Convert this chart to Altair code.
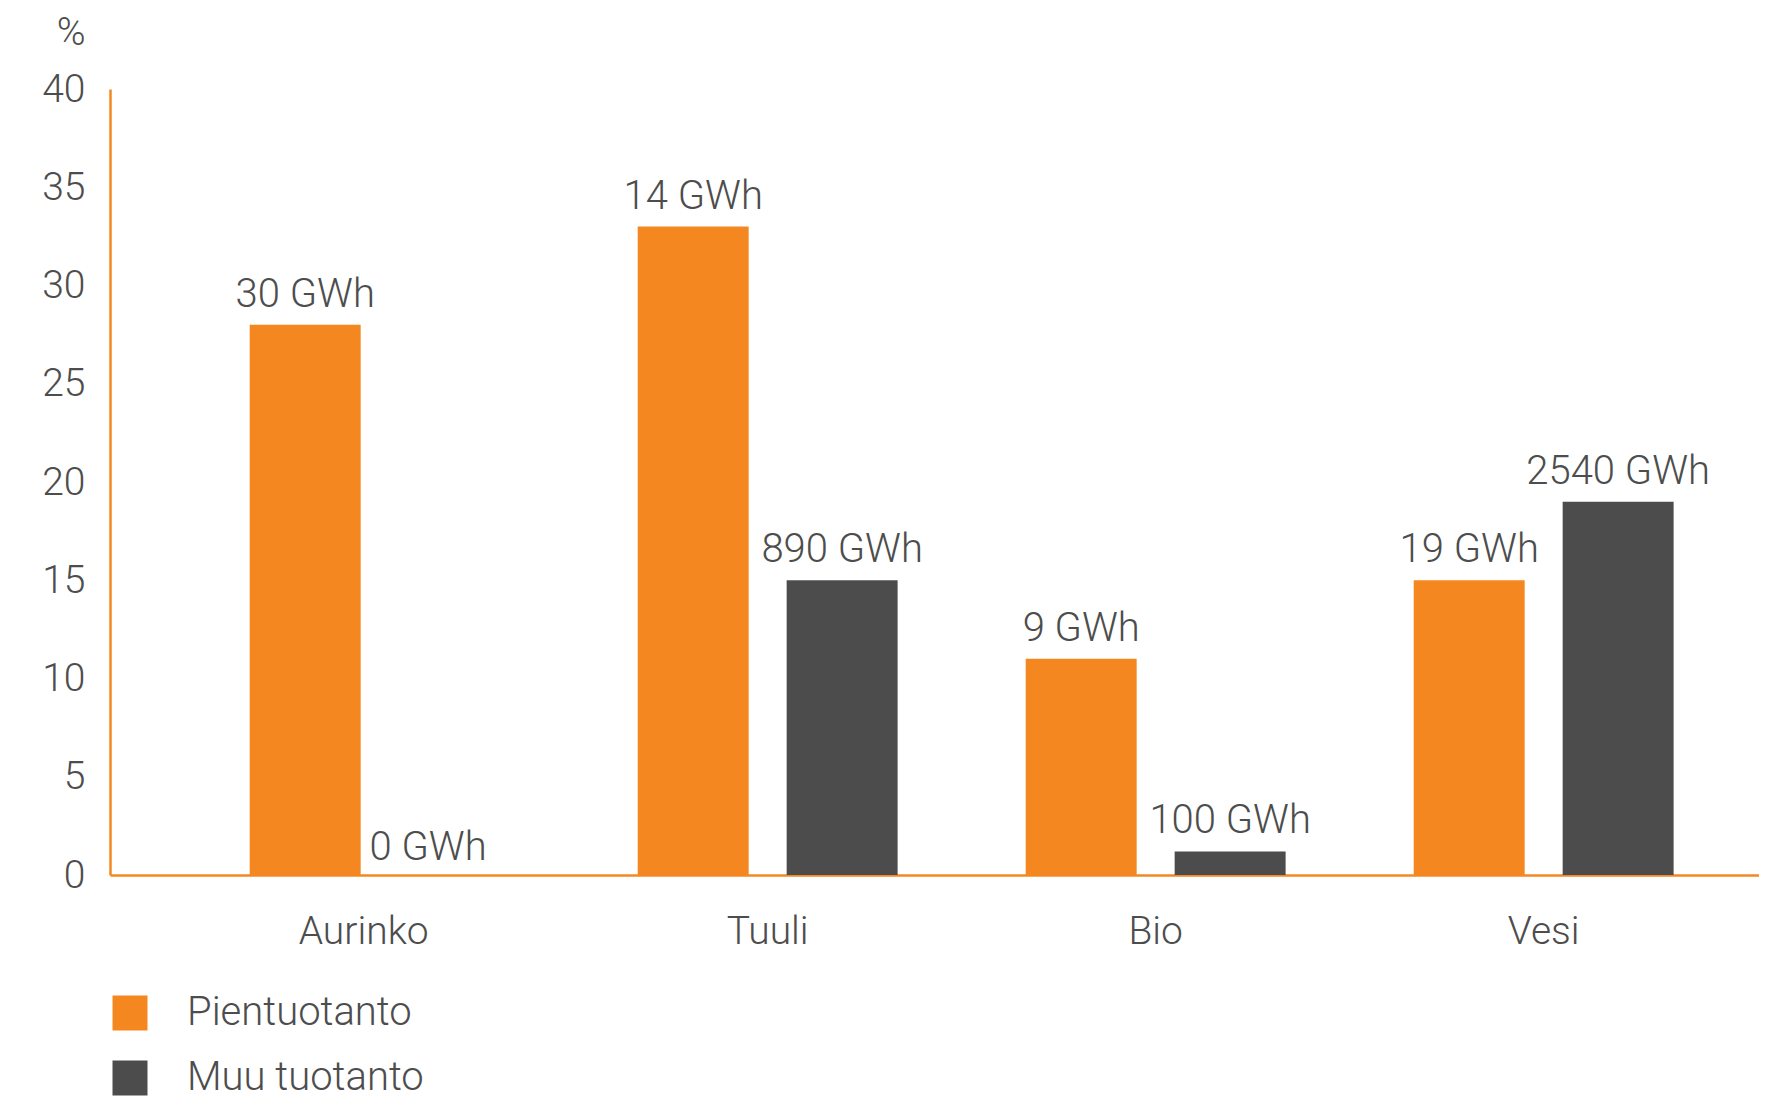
import altair as alt
import pandas as pd

categories = ["Aurinko", "Tuuli", "Bio", "Vesi"]
series_names = ["Pientuotanto", "Muu tuotanto"]
pien_values = [28, 33, 11, 15]
muu_values = [0, 15, 1.2, 19]
pien_labels = ["30 GWh", "14 GWh", "9 GWh", "19 GWh"]
muu_labels = ["0 GWh", "890 GWh", "100 GWh", "2540 GWh"]
y_ticks = [0, 5, 10, 15, 20, 25, 30, 35, 40]

ORANGE = "#f58720"
DARK = "#4c4c4c"
TEXT = "#4d4d4d"
FONT = "Roboto"
WEIGHT = 300

rows = []
for i, c in enumerate(categories):
    rows.append({"cat": c, "series": series_names[0], "value": pien_values[i], "label": pien_labels[i]})
    rows.append({"cat": c, "series": series_names[1], "value": muu_values[i], "label": muu_labels[i]})
df = pd.DataFrame(rows)

x = alt.X(
    "cat:N",
    sort=categories,
    scale=alt.Scale(paddingInner=0, paddingOuter=0.125, align=0.78),
    axis=alt.Axis(
        title=None, labelAngle=0, ticks=False, tickSize=0, labelPadding=37,
        labelFontSize=39,
        labelOffset={"condition": {"test": "datum.value === 'Aurinko'", "value": -16}, "value": 0},
    ),
)
y = alt.Y(
    "value:Q",
    scale=alt.Scale(domain=[0, 40], nice=False, zero=True),
    axis=alt.Axis(
        values=y_ticks, title="%", titleAngle=0, titleAlign="right", titleBaseline="middle",
        titleX=-25, titleY=-57, titleFontSize=39, titleFontWeight=WEIGHT, titleColor=TEXT,
        labelPadding=25, ticks=False, tickSize=0, grid=False, labelFontSize=39,
    ),
)
x_off = alt.XOffset("series:N", sort=series_names, scale=alt.Scale(paddingInner=0.255, paddingOuter=0.43))
color = alt.Color(
    "series:N",
    sort=series_names,
    scale=alt.Scale(domain=series_names, range=[ORANGE, DARK]),
    legend=alt.Legend(
        title=None, orient="none", legendX=0, legendY=904, symbolType="square",
        symbolSize=1225, symbolStrokeWidth=0, labelFontSize=40, labelOffset=37,
        rowPadding=25, padding=0, labelColor=TEXT, labelFont=FONT, labelFontWeight=WEIGHT,
        labelLimit=0, symbolOpacity=1,
    ),
)

bars = alt.Chart(df).mark_bar().encode(x=x, xOffset=x_off, y=y, color=color)
text_nonzero = alt.Chart(df).transform_filter("datum.value > 0").mark_text(
    baseline="alphabetic", dy=-18, fontSize=40, color=TEXT, font=FONT, fontWeight=WEIGHT
).encode(x=x, xOffset=x_off, y=y, text="label:N")
text_zero = alt.Chart(df).transform_filter("datum.value == 0").mark_text(
    baseline="alphabetic", dx=-26, dy=-15, fontSize=40, color=TEXT, font=FONT, fontWeight=WEIGHT
).encode(x=x, xOffset=x_off, y=y, text="label:N")

chart = alt.layer(bars, text_nonzero, text_zero).properties(
    width=1649, height=786,
    autosize=alt.AutoSizeParams(type="none"),
    padding={"left": 102, "top": 81, "right": 0, "bottom": 225},
).configure_view(strokeWidth=0).configure_axis(
    domainColor=ORANGE, domainWidth=2.5, labelColor=TEXT, labelFont=FONT, titleFont=FONT,
    labelFontWeight=WEIGHT
)

chart.save("out.html", embed_options={"renderer": "svg", "actions": False})
